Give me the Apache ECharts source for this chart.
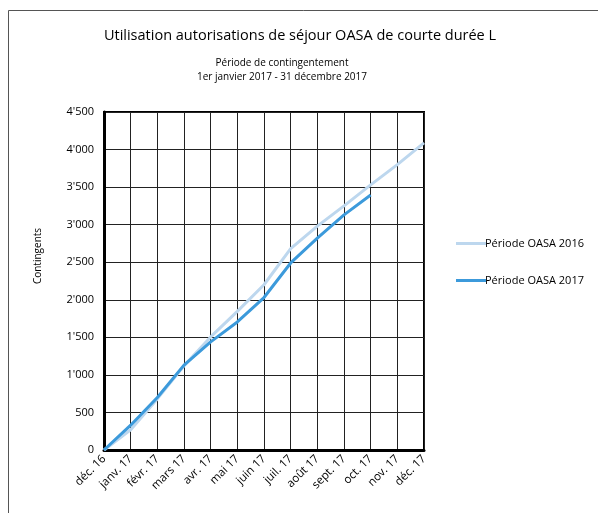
<!DOCTYPE html>
<html>
<head>
<meta charset="utf-8">
<script src="https://cdn.jsdelivr.net/npm/echarts@6/dist/echarts.min.js"></script>
<style>
  html, body { margin: 0; padding: 0; background: #fff; }
  #chart { width: 598px; height: 513px; }
</style>
</head>
<body>
<div id="chart"></div>
<script>
const months = [
  "déc. 16", "janv. 17", "févr. 17", "mars 17", "avr. 17", "mai 17", "juin 17",
  "juil. 17", "août 17", "sept. 17", "oct. 17", "nov. 17", "déc. 17",
];
const oasa2016 = [0, 270, 680, 1120, 1505, 1845, 2200, 2680, 2980, 3250, 3530, 3800, 4090];
const oasa2017 = [0, 330, 700, 1130, 1440, 1705, 2030, 2490, 2820, 3130, 3395];

const fmt = (v) => String(v).replace(/\B(?=(\d{3})+(?!\d))/g, "'");
const font = "'Open Sans', 'Noto Sans', sans-serif";
const lineIcon = "path://M0,0H30V3H0Z";

const chart = echarts.init(document.getElementById("chart"));

chart.setOption({
  animation: false,
  textStyle: { fontFamily: font },
  graphic: [
    {
      type: "polyline",
      shape: { points: [[8.5, 513], [8.5, 10.5], [598, 10.5]] },
      style: { stroke: "#555", lineWidth: 1, fill: null },
    },
    {
      type: "text",
      style: {
        x: 300,
        y: 28,
        text: "Utilisation autorisations de séjour OASA de courte durée L",
        font: "14.5px " + font,
        fill: "#000",
        align: "center",
      },
    },
    {
      type: "text",
      style: {
        x: 282,
        y: 56,
        text: "Période de contingentement\n1er janvier 2017 - 31 décembre 2017",
        font: "10px " + font,
        fill: "#000",
        align: "center",
        lineHeight: 14,
      },
    },
    {
      type: "text",
      x: 38,
      y: 256,
      rotation: Math.PI / 2,
      style: {
        x: 0,
        y: 0,
        text: "Contingents",
        font: "10px " + font,
        fill: "#000",
        align: "center",
        verticalAlign: "middle",
      },
    },
  ],
  grid: {
    left: 104,
    right: 174,
    top: 112,
    bottom: 63,
    show: true,
    borderColor: "#000",
    borderWidth: 2,
  },
  legend: {
    orient: "vertical",
    left: 451,
    top: 233,
    itemGap: 26,
    itemWidth: 30,
    itemHeight: 3,
    textStyle: { fontSize: 11, color: "#000", fontFamily: font, padding: [0, 0, 0, -6] },
    data: [
      { name: "Période OASA 2016", icon: lineIcon },
      { name: "Période OASA 2017", icon: lineIcon },
    ],
  },
  xAxis: {
    type: "category",
    data: months,
    boundaryGap: false,
    axisLine: { lineStyle: { color: "#000", width: 3 } },
    axisTick: { show: false },
    splitLine: { show: true, interval: 0, lineStyle: { color: "#222", width: 1 } },
    axisLabel: {
      interval: 0,
      rotate: 45,
      fontSize: 11.5,
      color: "#000",
      margin: 7,
      fontFamily: font,
    },
  },
  yAxis: {
    type: "value",
    min: 0,
    max: 4500,
    interval: 500,
    axisLine: { show: true, lineStyle: { color: "#000", width: 3 } },
    axisTick: { show: false },
    splitLine: { show: true, lineStyle: { color: "#222", width: 1 } },
    axisLabel: {
      fontSize: 11,
      color: "#000",
      margin: 10,
      fontFamily: font,
      formatter: fmt,
    },
  },
  series: [
    {
      name: "Période OASA 2016",
      type: "line",
      data: oasa2016,
      symbol: "none",
      lineStyle: { color: "#BDD7EE", width: 3 },
      itemStyle: { color: "#BDD7EE" },
      z: 3,
    },
    {
      name: "Période OASA 2017",
      type: "line",
      data: oasa2017,
      symbol: "none",
      lineStyle: { color: "#3C9ADB", width: 3 },
      itemStyle: { color: "#3C9ADB" },
      z: 4,
    },
  ],
});
</script>
</body>
</html>
